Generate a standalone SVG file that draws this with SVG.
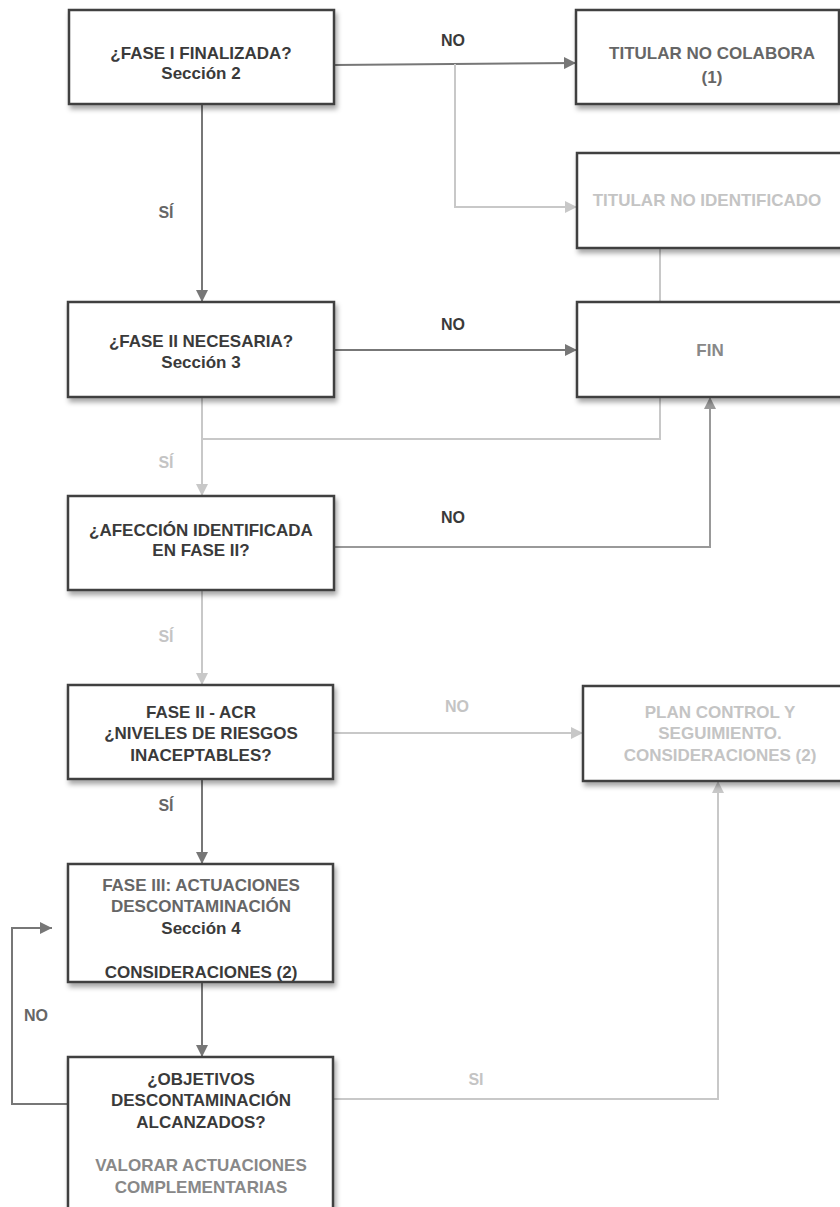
<svg xmlns="http://www.w3.org/2000/svg" width="840" height="1207" viewBox="0 0 840 1207">
<defs>
<filter id="sh" x="-10%" y="-10%" width="130%" height="140%">
<feDropShadow dx="2" dy="4" stdDeviation="2.5" flood-color="#000" flood-opacity="0.35"/>
</filter>
<marker id="ad" viewBox="0 0 10 10" refX="10" refY="5" markerWidth="12" markerHeight="12" markerUnits="userSpaceOnUse" orient="auto"><path d="M0,0 L10,5 L0,10 z" fill="#777"/></marker>
<marker id="am" viewBox="0 0 10 10" refX="10" refY="5" markerWidth="12" markerHeight="12" markerUnits="userSpaceOnUse" orient="auto"><path d="M0,0 L10,5 L0,10 z" fill="#999"/></marker>
<marker id="al" viewBox="0 0 10 10" refX="10" refY="5" markerWidth="12" markerHeight="12" markerUnits="userSpaceOnUse" orient="auto"><path d="M0,0 L10,5 L0,10 z" fill="#c8c8c8"/></marker>
</defs>
<style>
.box{fill:#fff;stroke:#404040;stroke-width:2.5;filter:url(#sh)}
text{font-family:"Liberation Sans",Arial,sans-serif;font-weight:bold;font-size:17px;text-anchor:middle}
.d{fill:#3a3a3a}.g{fill:#666}.m{fill:#888}.l{fill:#c4c4c4}
.cd{fill:none;stroke:#777;stroke-width:2}
.cm{fill:none;stroke:#999;stroke-width:2}
.cl{fill:none;stroke:#c8c8c8;stroke-width:2}
.lab{font-size:16px}
</style>
<rect width="840" height="1207" fill="#fff"/>
<g id="connectors">
<path class="cd" d="M334,65 L576,63" marker-end="url(#ad)"/>
<path class="cl" d="M455,64 L455,207 L577,207" marker-end="url(#al)"/>
<path class="cd" d="M202,104 L202,302" marker-end="url(#ad)"/>
<path class="cd" d="M334,350 L577,350" marker-end="url(#ad)"/>
<path class="cl" d="M660,248 L660,302"/>
<path class="cl" d="M660,397 L660,439 L202,439"/>
<path class="cl" d="M202,397 L202,496" marker-end="url(#al)"/>
<path class="cm" d="M334,547 L710,547 L710,397" marker-end="url(#am)"/>
<path class="cl" d="M202,590 L202,685" marker-end="url(#al)"/>
<path class="cl" d="M333,733 L583,733" marker-end="url(#al)"/>
<path class="cd" d="M202,779 L202,864" marker-end="url(#ad)"/>
<path class="cd" d="M202,982 L202,1057" marker-end="url(#ad)"/>
<path class="cd" d="M68,1104 L12,1104 L12,928 L52,928" marker-end="url(#ad)"/>
<path class="cl" d="M333,1099 L718,1099 L718,781" marker-end="url(#al)"/>
<text class="d lab" x="453" y="46">NO</text>
<text class="g lab" x="166" y="218">SÍ</text>
<text class="d lab" x="453" y="330">NO</text>
<text class="l lab" x="166" y="468">SÍ</text>
<text class="d lab" x="453" y="523">NO</text>
<text class="l lab" x="166" y="642">SÍ</text>
<text class="l lab" x="457" y="712">NO</text>
<text class="g lab" x="166" y="811">SÍ</text>
<text class="g lab" x="36" y="1021">NO</text>
<text class="l lab" x="476" y="1085">SI</text>
</g>
<g id="n1"><rect class="box" x="69" y="10" width="265" height="94"/>
<text class="d" x="201" y="59">¿FASE I FINALIZADA?</text><text class="d" x="201" y="79">Sección 2</text></g>
<g id="n2"><rect class="box" x="576" y="10" width="263" height="94"/>
<text class="g" x="712" y="59">TITULAR NO COLABORA</text><text class="g" x="712" y="83">(1)</text></g>
<g id="n3"><rect class="box" x="577" y="153" width="270" height="95"/>
<text class="l" x="707" y="206">TITULAR NO IDENTIFICADO</text></g>
<g id="n4"><rect class="box" x="68" y="302" width="266" height="95"/>
<text class="d" x="201" y="347">¿FASE II NECESARIA?</text><text class="d" x="201" y="368">Sección 3</text></g>
<g id="n5"><rect class="box" x="577" y="302" width="270" height="95"/>
<text class="m" x="710" y="356">FIN</text></g>
<g id="n6"><rect class="box" x="68" y="496" width="266" height="94"/>
<text class="d" x="201" y="536">¿AFECCIÓN IDENTIFICADA</text><text class="d" x="201" y="556">EN FASE II?</text></g>
<g id="n7"><rect class="box" x="68" y="685" width="265" height="94"/>
<text class="d" x="201" y="718">FASE II - ACR</text><text class="d" x="201" y="739">¿NIVELES DE RIESGOS</text><text class="d" x="201" y="761">INACEPTABLES?</text></g>
<g id="n8"><rect class="box" x="583" y="686" width="265" height="95"/>
<text class="l" x="720" y="718">PLAN CONTROL Y</text><text class="l" x="720" y="739">SEGUIMIENTO.</text><text class="l" x="720" y="761">CONSIDERACIONES (2)</text></g>
<g id="n9"><rect class="box" x="68" y="864" width="265" height="118"/>
<text class="g" x="201" y="891">FASE III: ACTUACIONES</text><text class="g" x="201" y="912">DESCONTAMINACIÓN</text><text class="d" x="201" y="934">Sección 4</text><text class="d" x="201" y="978">CONSIDERACIONES (2)</text></g>
<g id="n10"><rect class="box" x="68" y="1057" width="265" height="160"/>
<text class="d" x="201" y="1085">¿OBJETIVOS</text><text class="d" x="201" y="1106">DESCONTAMINACIÓN</text><text class="d" x="201" y="1128">ALCANZADOS?</text><text class="m" x="201" y="1171">VALORAR ACTUACIONES</text><text class="m" x="201" y="1193">COMPLEMENTARIAS</text></g>
</svg>
